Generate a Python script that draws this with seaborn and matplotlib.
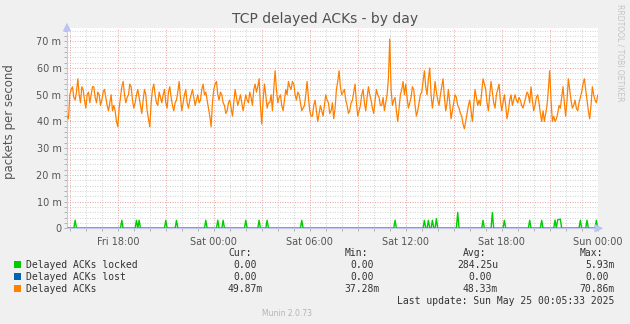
import numpy as np
import pandas as pd
import matplotlib
matplotlib.use("Agg")
import matplotlib.pyplot as plt
import seaborn as sns

# ---------------- data ----------------
title = "TCP delayed ACKs - by day"
y_label = "packets per second"
side_label = "RRDTOOL / TOBI OETIKER"
footer = "Munin 2.0.73"
last_update = "Last update: Sun May 25 00:05:33 2025"

# time axis: hours since Fri 00:00
start_hour = 14 + 50 / 60          # Fri 14:50
step_hours = 1 / 12                 # 5 min samples
n_samples = 399

# Delayed ACKs (milli packets / s), one row per hour
delayed = [
    42, 41, 50, 52, 53, 49, 48, 51, 56, 50, 47, 53,
    52, 48, 45, 50, 51, 47, 50, 53, 53, 49, 47, 51,
    50, 46, 48, 51, 52, 49, 46, 44, 47, 50, 44, 46,
    44, 40, 38, 45, 49, 53, 55, 50, 47, 49, 50, 54,
    53, 48, 45, 47, 50, 52, 49, 46, 43, 48, 52, 50,
    44, 41, 38, 47, 52, 54, 50, 47, 46, 51, 49, 47,
    50, 52, 47, 45, 51, 53, 49, 46, 44, 47, 48, 51,
    55, 49, 44, 47, 50, 52, 47, 45, 48, 50, 52, 49,
    46, 48, 50, 47, 48, 52, 54, 50, 51, 48, 45, 42,
    38, 47, 52, 54, 55, 50, 48, 51, 50, 47, 46, 43,
    44, 47, 48, 45, 42, 47, 52, 49, 46, 48, 50, 47,
    44, 47, 50, 48, 47, 51, 49, 46, 52, 54, 51, 53,
    56, 46, 39, 48, 54, 50, 45, 47, 47, 50, 44, 52,
    59, 52, 47, 49, 50, 46, 44, 48, 52, 50, 55, 53,
    52, 55, 54, 50, 48, 51, 50, 47, 44, 45, 46, 50,
    55, 49, 44, 42, 42, 46, 48, 44, 40, 43, 46, 44,
    42, 46, 50, 48, 47, 43, 44, 47, 41, 45, 52, 55,
    59, 53, 50, 51, 52, 48, 46, 43, 44, 47, 48, 51,
    54, 47, 42, 44, 46, 50, 52, 47, 44, 49, 53, 50,
    48, 45, 43, 48, 52, 50, 49, 46, 46, 49, 44, 47,
    50, 56, 70.86, 52, 46, 48, 49, 44, 40, 45, 50, 52,
    55, 50, 54, 49, 45, 47, 49, 53, 52, 46, 42, 44,
    47, 50, 51, 55, 59, 53, 50, 56, 60, 50, 45, 49,
    55, 51, 48, 46, 50, 53, 56, 49, 44, 47, 52, 47,
    41, 44, 47, 50, 49, 46, 45, 43, 42, 39, 37.28, 40,
    43, 46, 48, 44, 40, 46, 52, 49, 46, 48, 46, 51,
    56, 54, 52, 47, 44, 50, 55, 51, 47, 45, 50, 52,
    54, 48, 44, 47, 50, 46, 41, 44, 48, 50, 46, 48,
    50, 48, 47, 49, 48, 46, 45, 47, 49, 51, 50, 47,
    53, 48, 44, 46, 49, 50, 47, 43, 40, 44, 40, 43,
    46, 52, 59, 48, 40, 42, 40, 41, 43, 46, 45, 49,
    53, 47, 42, 48, 56, 52, 48, 45, 46, 48, 45, 44,
    47, 49, 51, 54, 56, 52, 48, 44, 41, 46, 53, 50,
    48, 47, 49.87,
]

# Delayed ACKs locked: non-zero 5-min samples (sample index, milli value)
locked_idx = [6, 41, 52, 54, 74, 82, 104, 113, 117, 134, 144, 150, 176,
              246, 268, 271, 274, 277, 293, 312, 319, 328, 347, 356,
              366, 368, 369, 370, 385, 390, 397]
locked_val = [3.0, 3.0, 3.0, 3.0, 3.0, 3.0, 3.0, 3.0, 3.0, 3.0, 3.0, 3.0, 3.0,
              3.0, 3.0, 3.0, 3.0, 3.6, 5.93, 3.0, 5.9, 3.0, 3.0, 3.0,
              3.1, 3.2, 3.3, 3.4, 3.0, 3.0, 3.0]

x_tick_hours = [18, 24, 30, 36, 42, 48]
x_tick_labels = ["Fri 18:00", "Sat 00:00", "Sat 06:00", "Sat 12:00", "Sat 18:00", "Sun 00:00"]
y_ticks = [0, 10, 20, 30, 40, 50, 60, 70]
y_tick_labels = ["0", "10 m", "20 m", "30 m", "40 m", "50 m", "60 m", "70 m"]

series_names = ["Delayed ACKs locked", "Delayed ACKs lost", "Delayed ACKs"]
series_colors = ["#00CC00", "#0066B3", "#FF8000"]
stat_headers = ["Cur:", "Min:", "Avg:", "Max:"]
stat_cur = [" 0.00 ", " 0.00 ", "49.87m"]
stat_min = [" 0.00 ", " 0.00 ", "37.28m"]
stat_avg = ["284.25u", "  0.00 ", " 48.33m"]
stat_max = [" 5.93m", " 0.00 ", "70.86m"]

# ---------------- build frames ----------------
t = start_hour + np.arange(n_samples) * step_hours
df_delayed = pd.DataFrame({"t": t[:len(delayed)], "v": delayed})
locked = np.zeros(n_samples)
locked[locked_idx] = locked_val
df_locked = pd.DataFrame({"t": t, "v": locked})
df_lost = pd.DataFrame({"t": t, "v": np.zeros(n_samples)})

# ---------------- figure ----------------
W, H = 630, 324
fig = plt.figure(figsize=(W / 100, H / 100), dpi=100, facecolor="#F0F0F0")
L, R, T, B = 67, 598, 28, 228.3
ax = fig.add_axes([L / W, 1 - B / H, (R - L) / W, (B - T) / H])
ax.set_facecolor("white")

xmin, xmax = start_hour - 0.01, 48.02
ax.set_xlim(xmin, xmax)
ax.set_ylim(0, 75)

# grid
grid_minor = "#D4D4D4"
grid_major = "#EAA8A8"
for h in np.arange(15, 49, 1):
    if h % 3 != 0:
        ax.axvline(h, color=grid_minor, lw=0.72, ls=(0, (1, 1.5)), zorder=0)
for v in np.arange(2, 75, 2):
    if v % 10 != 0:
        ax.axhline(v, color=grid_minor, lw=0.72, ls=(0, (1, 1.5)), zorder=0)
for h in np.arange(15, 49, 3):
    ax.axvline(h, color=grid_major, lw=0.72, ls=(0, (1, 1.5)), zorder=0.5)
for v in y_ticks[1:]:
    ax.axhline(v, color=grid_major, lw=0.72, ls=(0, (1, 1.5)), zorder=0.5)

sns.lineplot(data=df_locked, x="t", y="v", color=series_colors[0], lw=1.0,
             estimator=None, ax=ax, zorder=3)
sns.lineplot(data=df_lost, x="t", y="v", color="#7FA6E0", lw=1.2,
             estimator=None, ax=ax, zorder=2)
sns.lineplot(data=df_delayed, x="t", y="v", color=series_colors[2], lw=0.9,
             estimator=None, ax=ax, zorder=4)

ax.set_xlabel("")
ax.set_ylabel("")
ax.set_xticks(x_tick_hours)
ax.set_xticklabels(x_tick_labels)
ax.set_xticks(np.arange(15, 49, 1), minor=True)
ax.set_yticks(y_ticks)
ax.set_yticklabels(y_tick_labels)
ax.set_yticks(np.arange(2, 75, 2), minor=True)
ax.tick_params(axis="both", which="both", length=2, width=0.5, color="#999999",
               labelsize=7, labelcolor="#555555", pad=2)
ax.tick_params(axis="x", which="major", pad=4)

for s in ["top", "right"]:
    ax.spines[s].set_visible(False)
ax.spines["left"].set_color("#C4C8F0")
ax.spines["bottom"].set_color("#C4C8F0")
ax.spines["left"].set_linewidth(0.8)
ax.spines["bottom"].set_linewidth(0.8)

arrow_col = "#BCC4F4"
ax.annotate("", xy=(R + 8, H - B), xytext=(R - 1, H - B), xycoords="figure pixels",
            textcoords="figure pixels",
            arrowprops=dict(arrowstyle="-|>,head_length=0.5,head_width=0.25",
                            color=arrow_col, lw=0.8))
ax.annotate("", xy=(L, H - 20), xytext=(L, H - 29), xycoords="figure pixels",
            textcoords="figure pixels",
            arrowprops=dict(arrowstyle="-|>,head_length=0.5,head_width=0.25",
                            color=arrow_col, lw=0.8))


def P(x, y):
    return x / W, 1 - y / H


fig.text(*P(325, 19), title, ha="center", va="center", fontsize=10, color="#505050")
fig.text(*P(10, 122), y_label, ha="center", va="center", rotation=90,
         fontsize=8.5, color="#555555")
fig.text(*P(620, 53), side_label, ha="center", va="center", rotation=-90,
         fontsize=5.5, color="#C4C4C4")
fig.text(*P(287, 313), footer, ha="center", va="center", fontsize=5.5, color="#B4B4B4")

mono = "DejaVu Sans Mono"
cw = 5.83
fs = 7
text_col = "#333333"
col_starts = [228, 344.6, 457, 579.5]
header_x = [228, 344.6, 463, 579.5]
for hx, hd in zip(header_x, stat_headers):
    fig.text(*P(hx, 253), hd, ha="left", va="center", family=mono, fontsize=fs, color=text_col)

rows_y = [264.5, 276.5, 288.5]
cols = [stat_cur, stat_min, stat_avg, stat_max]
for i, (name, color) in enumerate(zip(series_names, series_colors)):
    y = rows_y[i]
    fig.patches.append(plt.Rectangle((14 / W, 1 - (y + 3.5) / H), 7 / W, 7 / H,
                                     transform=fig.transFigure, facecolor=color,
                                     edgecolor="none"))
    fig.text(*P(26, y), name, ha="left", va="center", family=mono, fontsize=fs, color=text_col)
    for cs, col in zip(col_starts, cols):
        s = col[i]
        lead = len(s) - len(s.lstrip())
        fig.text(*P(cs + lead * cw, y), s.strip(), ha="left", va="center",
                 family=mono, fontsize=fs, color=text_col)

fig.text(*P(614.5, 300.5), last_update, ha="right", va="center", family=mono,
         fontsize=fs, color=text_col)

fig.savefig("out.png", dpi=100, facecolor=fig.get_facecolor())
